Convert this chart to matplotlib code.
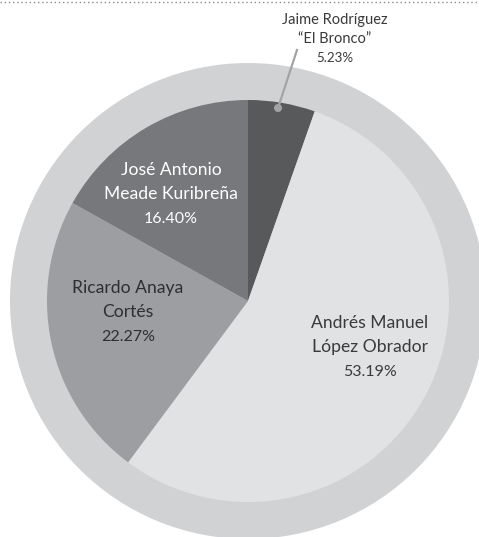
import matplotlib
matplotlib.use("Agg")
import matplotlib.pyplot as plt
from matplotlib.patches import Circle

# ---- data ----
candidates = ["Jaime Rodríguez\n“El Bronco”", "Andrés Manuel\nLópez Obrador",
              "Ricardo Anaya\nCortés", "José Antonio\nMeade Kuribreña"]
shares = [5.23, 53.19, 22.27, 16.40]
share_labels = ["5.23%", "53.19%", "22.27%", "16.40%"]

colors = ["#58595b", "#e1e2e4", "#9d9ea2", "#77787b"]
text_colors = ["#3a3a3a", "#3a3a3a", "#2e2e2e", "#ffffff"]

W, H = 479, 537
plt.rcParams['font.family'] = ['Lato', 'DejaVu Sans']
fig = plt.figure(figsize=(W / 100, H / 100), dpi=100)
ax = fig.add_axes([0, 0, 1, 1])
ax.set_xlim(0, W)
ax.set_ylim(0, H)
ax.set_aspect('equal')
ax.axis('off')

def py(y):
    return H - y

cx, cy = 248, 301
ax.add_patch(Circle((cx, py(cy)), 238, color="#d1d2d4", zorder=0, lw=0))
ax.pie(shares, colors=colors, startangle=90, counterclock=False,
       center=(cx, py(cy)), radius=201, frame=True,
       wedgeprops=dict(linewidth=0))
ax.set_xlim(0, W)
ax.set_ylim(0, H)
ax.axis('off')

# dotted line at top
ax.plot([0, W], [py(1.5), py(1.5)], linestyle=(0, (1, 2)), color="#8a8a8a", lw=1, zorder=5)

# inside labels (x, y of first line in pixel coords)
inside = {1: (370, 323), 2: (128, 288), 3: (171, 170)}
lh = 24
for i, (x, y) in inside.items():
    lines = candidates[i].split("\n")
    for k, line in enumerate(lines):
        ax.text(x, py(y + k * lh), line, ha='center', va='center',
                fontsize=12.6, color=text_colors[i], zorder=6)
    ax.text(x, py(y + len(lines) * lh + 1), share_labels[i], ha='center', va='center',
            fontsize=11.5, color=text_colors[i], zorder=6)

# outside label for small slice
x0, y0 = 335, 20
for k, line in enumerate(candidates[0].split("\n")):
    ax.text(x0, py(y0 + k * 19), line, ha='center', va='center',
            fontsize=10.5, color=text_colors[0], zorder=6)
ax.text(x0, py(y0 + 2 * 19), share_labels[0], ha='center', va='center',
        fontsize=9.6, color=text_colors[0], zorder=6)
ax.plot([278, 297], [py(108), py(50)], color="#a3a4a6", lw=1.6, zorder=6)
ax.add_patch(Circle((278, py(108)), 4, color="#a3a4a6", zorder=7, lw=0))

fig.savefig("out.png", dpi=100)
